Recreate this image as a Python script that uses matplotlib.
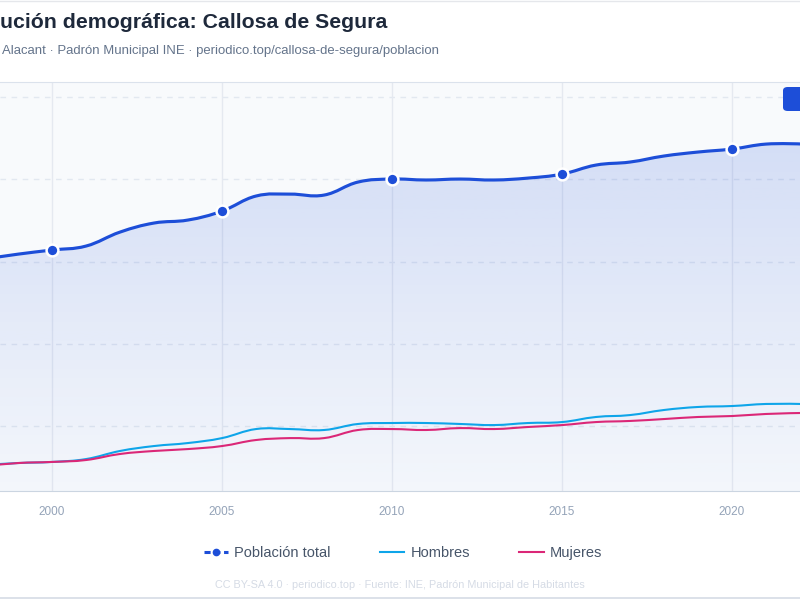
# Evolución demográfica: Callosa de Segura (vista recortada)

import numpy as np
import matplotlib
matplotlib.use("Agg")
import matplotlib.pyplot as plt
from matplotlib.path import Path
from matplotlib.patches import PathPatch, FancyBboxPatch
from matplotlib.lines import Line2D

plt.rcParams["font.family"] = ["Liberation Sans", "DejaVu Sans"]

# Data
years = [1998, 1999, 2000, 2001, 2002, 2003, 2004, 2005, 2006, 2007, 2008, 2009, 2010,
         2011, 2012, 2013, 2014, 2015, 2016, 2017, 2018, 2019, 2020, 2021, 2022]
total = [15090, 15270, 15420, 15565, 16075, 16405, 16515, 16840, 17390, 17460, 17425, 17900, 18010,
         17975, 18010, 17975, 18045, 18190, 18520, 18630, 18850, 18995, 19105, 19285, 19290]
hombres = [7580, 7650, 7690, 7795, 8090, 8270, 8380, 8560, 8890, 8890, 8855, 9075, 9110,
           9110, 9075, 9035, 9110, 9145, 9330, 9400, 9585, 9695, 9730, 9805, 9805]
mujeres = [7540, 7650, 7690, 7760, 7980, 8090, 8160, 8270, 8490, 8560, 8560, 8855, 8890,
           8855, 8925, 8890, 8965, 9035, 9145, 9185, 9255, 9330, 9365, 9440, 9475]
marker_years = [2000, 2005, 2010, 2015, 2020]
tick_years = [2000, 2005, 2010, 2015, 2020]

C_TOTAL = "#1d4ed8"
C_HOM = "#0ea5e9"
C_MUJ = "#db2777"


def spline_path(xs, ys, tension=0.4):
    # smooth curve through the points (cubic Bezier, like chart tension)
    xs = np.asarray(xs, float)
    ys = np.asarray(ys, float)
    n = len(xs)
    verts = [(xs[0], ys[0])]
    codes = [Path.MOVETO]
    for i in range(n - 1):
        a = max(i - 1, 0)
        b = min(i + 2, n - 1)
        c1 = (xs[i] + tension / 2 * (xs[i + 1] - xs[a]) if i > 0 else xs[i],
              ys[i] + tension / 2 * (ys[i + 1] - ys[a]) if i > 0 else ys[i])
        c2 = (xs[i + 1] - tension / 2 * (xs[b] - xs[i]) if i + 1 < n - 1 else xs[i + 1],
              ys[i + 1] - tension / 2 * (ys[b] - ys[i]) if i + 1 < n - 1 else ys[i + 1])
        verts += [c1, c2, (xs[i + 1], ys[i + 1])]
        codes += [Path.CURVE4] * 3
    return verts, codes


fig = plt.figure(figsize=(8, 6), dpi=100, facecolor="white")

# axes placed so that the view is cropped like the reference
ax = fig.add_axes([0, 1 - 491 / 600, 1, (491 - 82) / 600])
ax.set_facecolor("#f8fafc")
x0, x1 = 1998.47, 2022.0
y0, y1 = 6630, 21550
ax.set_xlim(x0, x1)
ax.set_ylim(y0, y1)

# grid
for yv in [9000, 12000, 15000, 18000, 21000]:
    ax.axhline(yv, color="#e2e8f0", lw=1, ls=(0, (4, 4)), zorder=1)
for xv in tick_years:
    ax.axvline(xv, color="#e5e9f0", lw=1, zorder=1)

# gradient fill under total
verts, codes = spline_path(years, total)
fill_verts = verts + [(years[-1], y0), (years[0], y0), (years[0], total[0])]
fill_codes = codes + [Path.LINETO, Path.LINETO, Path.CLOSEPOLY]
fill_patch = PathPatch(Path(fill_verts, fill_codes), facecolor="none", edgecolor="none",
                       transform=ax.transData)
ax.add_patch(fill_patch)
grad = np.zeros((256, 1, 4))
rgb = matplotlib.colors.to_rgb(C_TOTAL)
grad[:, 0, :3] = rgb
grad[:, 0, 3] = np.linspace(0.19, 0.02, 256)
im = ax.imshow(grad, extent=[x0 - 1, x1 + 1, y0, y1], origin="upper", aspect="auto", zorder=2)
im.set_clip_path(fill_patch)

# lines
for ys, col, lw, z in [(hombres, C_HOM, 2.0, 3), (mujeres, C_MUJ, 2.0, 3), (total, C_TOTAL, 3.0, 4)]:
    v, c = spline_path(years, ys)
    ax.add_patch(PathPatch(Path(v, c), facecolor="none", edgecolor=col, lw=lw * 0.75,
                           capstyle="round", joinstyle="round", zorder=z))

mk_vals = [total[years.index(y)] for y in marker_years]
ax.plot(marker_years, mk_vals, ls="none", marker="o", ms=8.5, mfc=C_TOTAL, mec="white",
        mew=1.8, zorder=5)

# axes styling
for s in ["left", "right"]:
    ax.spines[s].set_visible(False)
ax.spines["top"].set_color("#dbe2ec")
ax.spines["bottom"].set_color("#cbd5e1")
ax.set_yticks([])
ax.set_xticks(tick_years)
ax.set_xticklabels([str(y) for y in tick_years])
ax.tick_params(axis="x", length=0, pad=11, labelsize=8.5, labelcolor="#94a3b8")

# titles (only the part visible in the cropped view)
fig.text(0 / 800, 1 - 23 / 600, "ución demográfica: Callosa de Segura", ha="left",
         va="center", fontsize=15.3, fontweight="bold", color="#1e293b")
fig.text(2 / 800, 1 - 51 / 600,
         "Alacant · Padrón Municipal INE · periodico.top/callosa-de-segura/poblacion",
         ha="left", va="center", fontsize=9.45, color="#64748b")

# small button at top right
fig.patches.append(FancyBboxPatch((783 / 800, 1 - 111 / 600), 40 / 800, 24 / 600,
                                  boxstyle="round,pad=0,rounding_size=0.006",
                                  transform=fig.transFigure, facecolor=C_TOTAL,
                                  edgecolor="none", zorder=10))

# legend
handles = [Line2D([], [], color=C_TOTAL, lw=2.2, ls=(0, (2, 1.2)), marker="o", ms=4.5,
                  mfc=C_TOTAL, mec=C_TOTAL),
           Line2D([], [], color=C_HOM, lw=1.5),
           Line2D([], [], color=C_MUJ, lw=1.5)]
fig.legend(handles, ["Población total", "Hombres", "Mujeres"], loc="center",
           bbox_to_anchor=(403 / 800, 1 - 553 / 600), ncol=3, frameon=False, fontsize=10.5,
           labelcolor="#475569", handlelength=1.65, handletextpad=0.42, columnspacing=3.4)

# footer
fig.text(0.5, 1 - 585 / 600,
         "CC BY-SA 4.0 · periodico.top · Fuente: INE, Padrón Municipal de Habitantes",
         ha="center", va="center", fontsize=7.8, color="#d5dbe5")

# card borders
fig.add_artist(Line2D([0, 1], [1 - 1 / 600, 1 - 1 / 600], transform=fig.transFigure,
                      color="#e5e7eb", lw=1))
fig.add_artist(Line2D([0, 1], [2 / 600, 2 / 600], transform=fig.transFigure,
                      color="#d5dbe5", lw=1.2))

fig.savefig("out.png", dpi=100, facecolor="white")
